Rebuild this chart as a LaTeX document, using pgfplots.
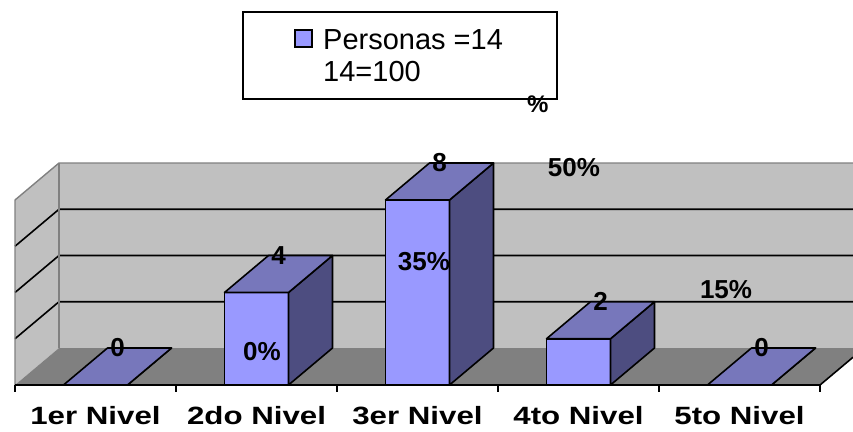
\documentclass[border=0pt]{standalone}
\usepackage{pgfplots}
\pgfplotsset{compat=1.18}
\usepackage{fontspec}
\setmainfont{Liberation Sans}
\newfontfamily\catfam[FakeStretch=1.25]{Liberation Sans}
\definecolor{frontc}{HTML}{9999FF}
\definecolor{topc}{HTML}{7777BB}
\definecolor{sidec}{HTML}{4D4D80}
\definecolor{wallc}{HTML}{C0C0C0}
\definecolor{floorc}{HTML}{808080}
\newcommand\lblfont{\fontsize{26bp}{30bp}\selectfont\bfseries}
\newcommand\catfont{\catfam\fontsize{25bp}{30bp}\selectfont\bfseries}
% top face of a 3D bar, drawn at the bar's front top centre
\pgfdeclareplotmark{top3d}{%
  \pgfpathmoveto{\pgfpoint{-32bp}{0bp}}%
  \pgfpathlineto{\pgfpoint{32bp}{0bp}}%
  \pgfpathlineto{\pgfpoint{76bp}{37bp}}%
  \pgfpathlineto{\pgfpoint{12bp}{37bp}}%
  \pgfpathclose
  \pgfusepathqfillstroke
}
% side face of a 3D bar; its height follows the bar's value (\val)
\pgfdeclareplotmark{side3d}{%
  \pgfpathmoveto{\pgfpoint{32bp}{0bp}}%
  \pgfpathlineto{\pgfpoint{76bp}{37bp}}%
  \pgfpathlineto{\pgfpoint{76bp}{37bp-\val*23.125bp}}%
  \pgfpathlineto{\pgfpoint{32bp}{-\val*23.125bp}}%
  \pgfpathclose
  \pgfusepathqfillstroke
}
\begin{document}
\begin{tikzpicture}
\begin{axis}[name=ax, at={(0,0)}, anchor=south west,
  scale only axis, width=853bp, height=432bp,
  xmin=0.40683, xmax=5.70497, ymin=-2.0324, ymax=16.649,
  hide axis,
  /pgf/number format/assume math mode=true,
]
% walls and floor
\fill[wallc] (axis cs:0.5,0) -- (axis cs:0.5,8) -- (axis cs:0.77329,9.6) -- (axis cs:0.77329,1.6) -- cycle;
\fill[wallc] (axis cs:0.77329,1.6) rectangle (axis cs:5.70497,9.6);
\fill[floorc] (axis cs:0.5,0) -- (axis cs:5.5,0) -- (axis cs:5.70497,1.2) -- (axis cs:5.70497,1.6) -- (axis cs:0.77329,1.6) -- cycle;
% grid lines
\draw[black, line width=1.6bp] (axis cs:0.5,2) -- (axis cs:0.77329,3.6) -- (axis cs:5.70497,3.6);
\draw[black, line width=1.6bp] (axis cs:0.5,4) -- (axis cs:0.77329,5.6) -- (axis cs:5.70497,5.6);
\draw[black, line width=1.6bp] (axis cs:0.5,6) -- (axis cs:0.77329,7.6) -- (axis cs:5.70497,7.6);
% wall borders
\draw[floorc, line width=1.4bp] (axis cs:0.5,0) -- (axis cs:0.5,8) -- (axis cs:0.77329,9.6) -- (axis cs:5.70497,9.6);
\draw[floorc, line width=1.4bp] (axis cs:0.77329,9.6) -- (axis cs:0.77329,1.6);
% category axis
\draw[black, line width=1.6bp] (axis cs:0.5,0) -- (axis cs:5.5,0) -- (axis cs:5.70497,1.2);
\draw[black, line width=1.6bp] (axis cs:0.5,0) -- (axis cs:0.5,-0.3027);
\draw[black, line width=1.6bp] (axis cs:1.5,0) -- (axis cs:1.5,-0.3027);
\draw[black, line width=1.6bp] (axis cs:2.5,0) -- (axis cs:2.5,-0.3027);
\draw[black, line width=1.6bp] (axis cs:3.5,0) -- (axis cs:3.5,-0.3027);
\draw[black, line width=1.6bp] (axis cs:4.5,0) -- (axis cs:4.5,-0.3027);
\draw[black, line width=1.6bp] (axis cs:5.5,0) -- (axis cs:5.5,-0.3027);
% bars: front faces
\addplot[ybar, bar width=0.3975, bar shift=0pt, fill=frontc, draw=black, line width=1.6bp]
  coordinates {(1,0) (2,4) (3,8) (4,2) (5,0)};
% bars: side faces
\addplot[only marks, mark=side3d,
  visualization depends on={rawy \as \val},
  mark options={fill=sidec, draw=black, line width=1.6bp, line join=round}]
  coordinates {(1,0) (2,4) (3,8) (4,2) (5,0)};
% bars: top faces and value labels
\addplot[only marks, mark=top3d,
  mark options={fill=topc, draw=black, line width=1.6bp, line join=round},
  nodes near coords,
  every node near coord/.append style={font=\lblfont, anchor=center, xshift=22bp, yshift=37bp, inner sep=0pt, text=black},
] coordinates {(1,0) (2,4) (3,8) (4,2) (5,0)};
% percent labels
\node[font=\lblfont, inner sep=0pt] at (axis cs:2.0342,1.427) {0\%};
\node[font=\lblfont, inner sep=0pt] at (axis cs:3.0404,5.319) {35\%};
\node[font=\lblfont, inner sep=0pt] at (axis cs:3.9721,9.384) {50\%};
\node[font=\lblfont, inner sep=0pt] at (axis cs:4.9162,4.108) {15\%};
% category labels
\node[font=\catfont, anchor=base, inner sep=0pt] at (axis cs:1,-1.6865) {1er Nivel};
\node[font=\catfont, anchor=base, inner sep=0pt] at (axis cs:2,-1.6865) {2do Nivel};
\node[font=\catfont, anchor=base, inner sep=0pt] at (axis cs:3,-1.6865) {3er Nivel};
\node[font=\catfont, anchor=base, inner sep=0pt] at (axis cs:4,-1.6865) {4to Nivel};
\node[font=\catfont, anchor=base, inner sep=0pt] at (axis cs:5,-1.6865) {5to Nivel};
\end{axis}
\path (0,0) rectangle (853bp,432bp);
% legend
\draw[line width=1.6bp] (243bp,333bp) rectangle (557bp,420bp);
\filldraw[fill=frontc, draw=black, line width=1.2bp] (295bp,385bp) rectangle (312bp,402bp);
\node[anchor=base west, inner sep=0pt, font=\fontsize{29bp}{34bp}\selectfont] at (323bp,382bp) {Personas =14};
\node[anchor=base west, inner sep=0pt, font=\fontsize{29bp}{34bp}\selectfont] at (323bp,350bp) {14=100};
\node[anchor=base west, inner sep=0pt, font=\fontsize{24bp}{28bp}\selectfont\bfseries] at (527bp,319bp) {\%};
\end{tikzpicture}
\end{document}
